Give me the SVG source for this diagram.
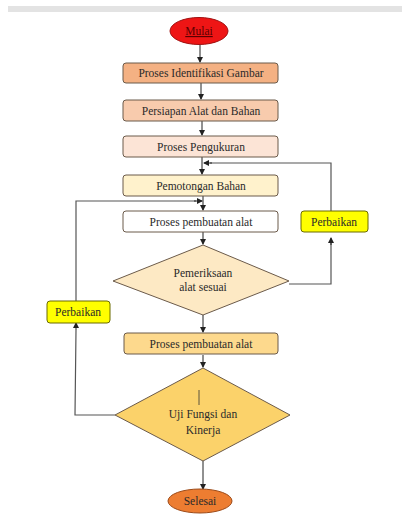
<svg xmlns="http://www.w3.org/2000/svg" width="402" height="522" viewBox="0 0 402 522">
<defs>
<marker id="ah" markerWidth="6" markerHeight="6" refX="5" refY="3" orient="auto" markerUnits="userSpaceOnUse">
<path d="M0,0 L6,3 L0,6 z" fill="#222"/>
</marker>
<style>
text{font-family:"Liberation Serif","DejaVu Serif","Times New Roman",serif;font-size:11.5px;fill:#2a2a2a;text-anchor:middle}
.b{stroke:#6b5a4a;stroke-width:1}
.c{fill:none;stroke:#555;stroke-width:1.2}
.a{fill:none;stroke:#222;stroke-width:1;marker-end:url(#ah)}
</style>
</defs>
<rect width="402" height="522" fill="#fff"/>
<rect x="8" y="6" width="394" height="6" fill="#e3e3e3"/>
<g id="connectors">
<line class="a" x1="200" y1="45" x2="200" y2="62"/>
<line class="a" x1="201" y1="83" x2="201" y2="99"/>
<line class="a" x1="202" y1="121" x2="202" y2="135"/>
<line class="a" x1="202" y1="157" x2="202" y2="174"/>
<line class="a" x1="203" y1="196" x2="203" y2="210"/>
<line class="a" x1="203" y1="232" x2="203" y2="244"/>
<line class="a" x1="203" y1="315" x2="203" y2="332"/>
<line class="a" x1="203" y1="355" x2="203" y2="367"/>
<line class="a" x1="203" y1="461" x2="203" y2="489"/>
<polyline class="c" points="289,284 331,284 331,239"/>
<line class="a" x1="331" y1="245" x2="331" y2="238"/>
<polyline class="c" points="331,211 331,163 210,163"/>
<line class="a" x1="212" y1="163" x2="204" y2="163"/>
<polyline class="c" points="115,415 75,415 76,330"/>
<line class="a" x1="76" y1="330" x2="76" y2="323"/>
<polyline class="c" points="76,301 76,201 196,201"/>
<line class="a" x1="194" y1="201" x2="202" y2="201"/>
</g>
<g id="mulai">
<ellipse cx="199" cy="31" rx="29" ry="13.5" fill="#ee1515" stroke="#a01010"/>
<text x="199" y="35" style="fill:#5a0000" text-decoration="underline">Mulai</text>
</g>
<g id="identifikasi">
<rect class="b" x="123" y="63" width="155" height="20" rx="3" fill="#f4b183"/>
<text x="201" y="77">Proses Identifikasi Gambar</text>
</g>
<g id="persiapan">
<rect class="b" x="123" y="100" width="155" height="21" rx="3" fill="#f8cbad"/>
<text x="201" y="115">Persiapan Alat dan Bahan</text>
</g>
<g id="pengukuran">
<rect class="b" x="123" y="136" width="155" height="21" rx="3" fill="#fce4d6"/>
<text x="201" y="151">Proses Pengukuran</text>
</g>
<g id="pemotongan">
<rect class="b" x="123" y="175" width="155" height="21" rx="3" fill="#fff2cc"/>
<text x="201" y="190">Pemotongan Bahan</text>
</g>
<g id="pembuatan1">
<rect class="b" x="123" y="211" width="155" height="21" rx="3" fill="#ffffff"/>
<text x="201" y="226">Proses pembuatan alat</text>
</g>
<g id="pemeriksaan">
<polygon class="b" points="203,245 289,281 203,315 113,281" fill="#fde9c4"/>
<text x="203" y="277">Pemeriksaan</text>
<text x="203" y="291">alat sesuai</text>
</g>
<g id="pembuatan2">
<rect class="b" x="124" y="333" width="154" height="21" rx="3" fill="#fdd98d"/>
<text x="201" y="348">Proses pembuatan alat</text>
</g>
<g id="uji">
<polygon class="b" points="203,368 290,415 203,461 115,415" fill="#fbd26a"/>
<line x1="199" y1="390" x2="199" y2="405" stroke="#333" stroke-width="0.8"/>
<text x="203" y="418">Uji Fungsi dan</text>
<text x="203" y="434">Kinerja</text>
</g>
<g id="selesai">
<ellipse cx="200" cy="501" rx="32" ry="12" fill="#ed7d31" stroke="#9c4a18"/>
<text x="200" y="505">Selesai</text>
</g>
<g id="perbaikan1">
<rect x="301" y="211" width="67" height="21" rx="3" fill="#ffff00" stroke="#6b6b00"/>
<text x="334" y="226">Perbaikan</text>
</g>
<g id="perbaikan2">
<rect x="47" y="301" width="63" height="22" rx="3" fill="#ffff00" stroke="#6b6b00"/>
<text x="78" y="316">Perbaikan</text>
</g>
</svg>
